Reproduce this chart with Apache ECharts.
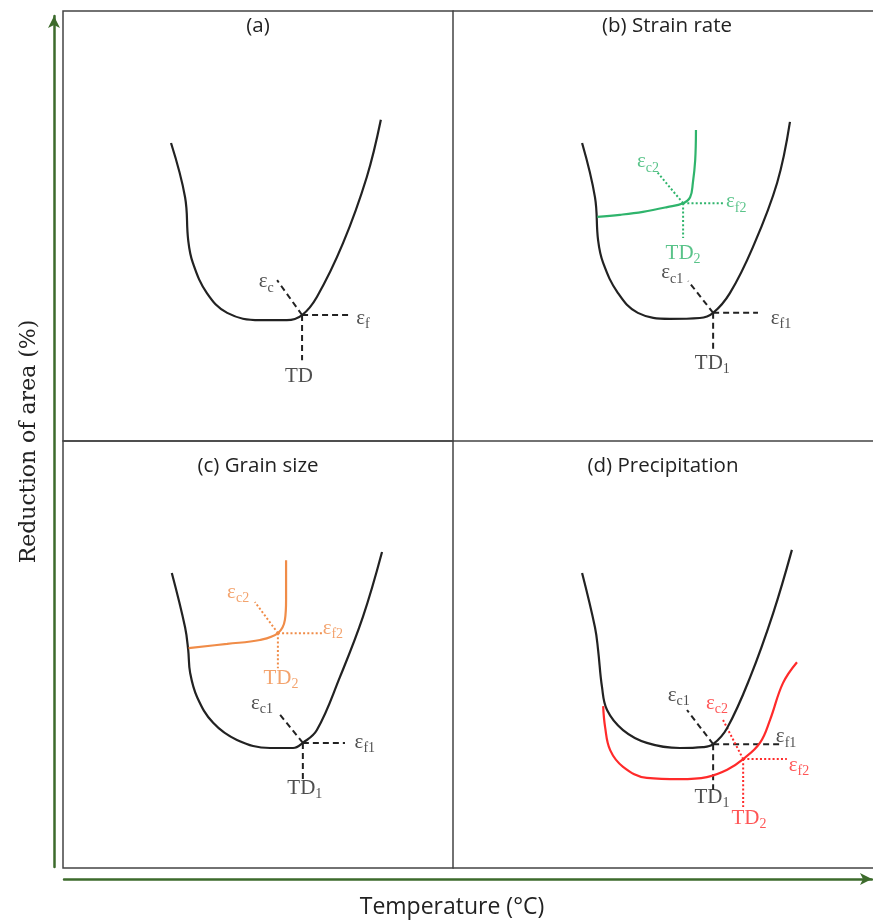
<!DOCTYPE html>
<html><head><meta charset="utf-8">
<script src="https://cdn.jsdelivr.net/npm/echarts@6/dist/echarts.min.js"></script>
<style>html,body{margin:0;padding:0;background:#fff}#c{width:873px;height:920px}</style>
</head><body><div id="c"></div>
<script>
// ---------- data (Temperature, Reduction of area) in schematic units ----------
const panelTitles = ['(a)', '(b) Strain rate', '(c) Grain size', '(d) Precipitation'];
const xAxisName = 'Temperature (°C)';
const yAxisName = 'Reduction of area (%)';

// (a)
const curveA = [[27.7,69.3],[31.3,56.7],[32.1,46.7],[33.3,41.4],[36.9,34.4],[42.1,29.8],[50.5,28.1],[57.4,28.1],[61.3,29.3],[65.1,33.5],[71.8,46.0],[77.9,61.4],[81.5,74.7]];
const tdA = [61.3,29.3];
const endsA = [[54.9,37.4],[73.1,29.3],[61.3,18.8]];
const labelsA = [['ε','c',52.1,37.0],['ε','f',76.9,28.6],['TD','',60.5,14.9]];

// (b) strain rate
const curveB1 = [[33.1,69.3],[36.4,56.7],[37.2,46.7],[38.5,41.4],[42.3,34.4],[47.4,29.8],[55.6,28.4],[63.3,28.6],[66.7,29.8],[71.0,34.4],[76.9,45.1],[83.1,60.0],[86.4,74.2]];
const curveB2 = [[37.0,52.1],[42.8,52.6],[48.7,53.3],[54.9,54.4],[59.0,55.3],[60.8,56.7],[61.5,60.0],[62.1,65.3],[62.3,72.3]];
const td1B = [66.7,29.8];
const ends1B = [[60.3,37.2],[78.2,29.8],[66.7,21.4]];
const td2B = [59.0,55.3];
const ends2B = [[52.3,62.6],[69.7,55.3],[59.0,47.2]];
const labels1B = [['ε','c1',56.2,39.1],['ε','f1',84.1,28.6],['TD','1',66.5,18.1]];
const labels2B = [['ε','c2',50.0,64.9],['ε','f2',72.6,55.6],['TD','2',59.0,43.7]];

// (c) grain size
const curveC1 = [[27.9,69.1],[31.3,56.4],[32.1,51.1],[32.6,45.7],[34.4,40.0],[38.5,34.0],[44.6,30.0],[53.1,28.1],[59.0,28.1],[61.5,29.3],[65.1,32.3],[71.0,44.7],[76.9,58.8],[81.8,74.0]];
const curveC2 = [[32.2,51.5],[42.1,52.5],[50.5,53.4],[55.1,55.0],[56.9,58.1],[57.2,62.8],[57.2,72.1]];
const td1C = [61.5,29.3];
const ends1C = [[55.1,36.5],[72.3,29.3],[61.5,20.6]];
const td2C = [55.1,55.0];
const ends2C = [[49.2,62.3],[66.7,55.0],[55.1,46.8]];
const labels1C = [['ε','c1',51.0,38.6],['ε','f1',77.4,29.5],['TD','1',62.0,18.7]];
const labels2C = [['ε','c2',44.9,64.6],['ε','f2',69.2,56.2],['TD','2',55.9,44.5]];

// (d) precipitation
const curveD1 = [[33.1,69.1],[36.4,56.4],[37.2,51.1],[38.2,42.4],[39.5,37.0],[43.6,32.3],[49.7,29.3],[58.2,28.1],[64.1,28.3],[66.7,29.0],[70.3,32.8],[76.2,44.7],[82.1,59.7],[86.9,74.5]];
const curveD2 = [[38.5,37.9],[39.0,33.0],[40.3,27.6],[43.6,23.7],[49.7,21.1],[58.2,20.8],[65.1,21.3],[70.3,23.0],[74.4,25.5],[78.7,29.3],[81.3,34.7],[84.6,43.3],[88.2,48.2]];
const td1D = [66.7,29.0];
const ends1D = [[60.0,37.0],[84.6,29.0],[66.7,18.3]];
const td2D = [74.4,25.5];
const ends2D = [[69.0,35.1],[85.6,25.5],[74.4,14.3]];
const labels1D = [['ε','c1',57.9,40.5],['ε','f1',85.4,30.7],['TD','1',66.4,16.6]];
const labels2D = [['ε','c2',67.7,38.6],['ε','f2',88.7,24.1],['TD','2',75.9,11.7]];

// ---------- styling / layout ----------
const BLACK = '#222222', GREEN = '#2fb46c', ORANGE = '#f08c48', RED = '#ff2a2a', AXISGREEN = '#3d6b2c', FRAME = '#444444';
const grids = [
  {left:63, top:11, width:390, height:430},
  {left:453, top:11, width:420, height:430},
  {left:63, top:441, width:390, height:427},
  {left:453, top:441, width:420, height:427},
  {left:54, top:16, width:819, height:851},
  {left:64, top:500, width:808, height:379}
];
const xMax = [100, 420/3.9, 100, 420/3.9];

const series = [];
function curve(g, data, color){
  series.push({type:'line', xAxisIndex:g, yAxisIndex:g, data:data, smooth:0.4, symbol:'none',
    lineStyle:{color:color, width:2.2}, silent:true, z:3});
}
function guides(g, td, ends, color, dotted){
  ends.forEach(e=>{
    series.push({type:'line', xAxisIndex:g, yAxisIndex:g, data:[td, e], symbol:'none',
      lineStyle:{color:color, width:2, type: dotted ? [2,2.2] : [6,4]}, silent:true, z:2});
  });
}
function labels(g, arr, color){
  series.push({type:'scatter', xAxisIndex:g, yAxisIndex:g, symbolSize:0, silent:true, z:5,
    data: arr.map(a=>({value:[a[2],a[3]], main:a[0], sub:a[1]})),
    label:{show:true, position:'inside', color:color,
      formatter: p => '{m|'+p.data.main+'}' + (p.data.sub ? '{s|'+p.data.sub+'}' : ''),
      rich:{
        m:{fontFamily:'Liberation Serif', fontSize: 21, lineHeight:26, verticalAlign:'middle', color:color},
        s:{fontFamily:'Liberation Serif', fontSize: 14, lineHeight:14, verticalAlign:'bottom', color:color}
      }}
  });
}

curve(0, curveA, BLACK); guides(0, tdA, endsA, BLACK, false); labels(0, labelsA, BLACK);
curve(1, curveB1, BLACK); guides(1, td1B, ends1B, BLACK, false); labels(1, labels1B, BLACK);
curve(1, curveB2, GREEN); guides(1, td2B, ends2B, GREEN, true); labels(1, labels2B, GREEN);
curve(2, curveC1, BLACK); guides(2, td1C, ends1C, BLACK, false); labels(2, labels1C, BLACK);
curve(2, curveC2, ORANGE); guides(2, td2C, ends2C, ORANGE, true); labels(2, labels2C, ORANGE);
curve(3, curveD1, BLACK); guides(3, td1D, ends1D, BLACK, false); labels(3, labels1D, BLACK);
curve(3, curveD2, RED); guides(3, td2D, ends2D, RED, true); labels(3, labels2D, RED);

const hidden = {axisLine:{show:false}, axisTick:{show:false}, axisLabel:{show:false}, splitLine:{show:false}};
const frameLine = {show:true, lineStyle:{color:FRAME, width:1.5}};
const xAxes = [], yAxes = [];
for (let i=0;i<4;i++){
  const x = Object.assign({type:'value', gridIndex:i, min:0, max:xMax[i]}, hidden);
  if (i===1 || i===3) { x.axisLine = frameLine; x.position = 'bottom'; }
  xAxes.push(x);
  yAxes.push(Object.assign({type:'value', gridIndex:i, min:0, max:100}, hidden));
}
// outer arrows
xAxes.push(Object.assign({type:'value', gridIndex:4, min:0, max:100}, hidden));
yAxes.push({type:'value', gridIndex:4, min:0, max:100, axisTick:{show:false}, axisLabel:{show:false}, splitLine:{show:false},
  axisLine:{show:true, symbol:['none','arrow'], symbolSize:[9,12], lineStyle:{color:AXISGREEN, width:2.5}},
  name:yAxisName, nameLocation:'middle', nameGap:14, nameRotate:90,
  nameTextStyle:{fontFamily:'DejaVu Serif', fontSize:22, color:'#222'}});
xAxes.push({type:'value', gridIndex:5, min:0, max:100, axisTick:{show:false}, axisLabel:{show:false}, splitLine:{show:false},
  axisLine:{show:true, onZero:false, symbol:['none','arrow'], symbolSize:[9,12], lineStyle:{color:AXISGREEN, width:2.5}},
  name:xAxisName, nameLocation:'middle', nameGap:17,
  nameTextStyle:{fontFamily:'Open Sans', fontSize:23, color:'#222', padding:[0,32,0,0]}});
yAxes.push(Object.assign({type:'value', gridIndex:5, min:0, max:100}, hidden));
// top frame edge of panel (b)
xAxes.push({type:'value', gridIndex:1, position:'top', min:0, max:xMax[1], axisTick:{show:false}, axisLabel:{show:false}, splitLine:{show:false}, axisLine:frameLine});

const chart = echarts.init(document.getElementById('c'), null, {renderer:'canvas'});
chart.setOption({
  animation:false,
  backgroundColor:'#ffffff',
  title: [
    {text:panelTitles[0], left:258, top:16},
    {text:panelTitles[1], left:667, top:16},
    {text:panelTitles[2], left:258, top:456},
    {text:panelTitles[3], left:663, top:456}
  ].map(t=>Object.assign(t, {textAlign:'center', padding:0,
     textStyle:{fontFamily:'Open Sans', fontSize:20.5, fontWeight:'normal', color:'#222'}})),
  grid: grids.map((g,i)=>Object.assign({outerBoundsMode:'none', containLabel:false}, g,
     (i===0 || i===2) ? {show:true, borderColor:FRAME, borderWidth:1.5} : {show:false})),
  xAxis: xAxes,
  yAxis: yAxes,
  series: series
});
</script>
</body></html>
